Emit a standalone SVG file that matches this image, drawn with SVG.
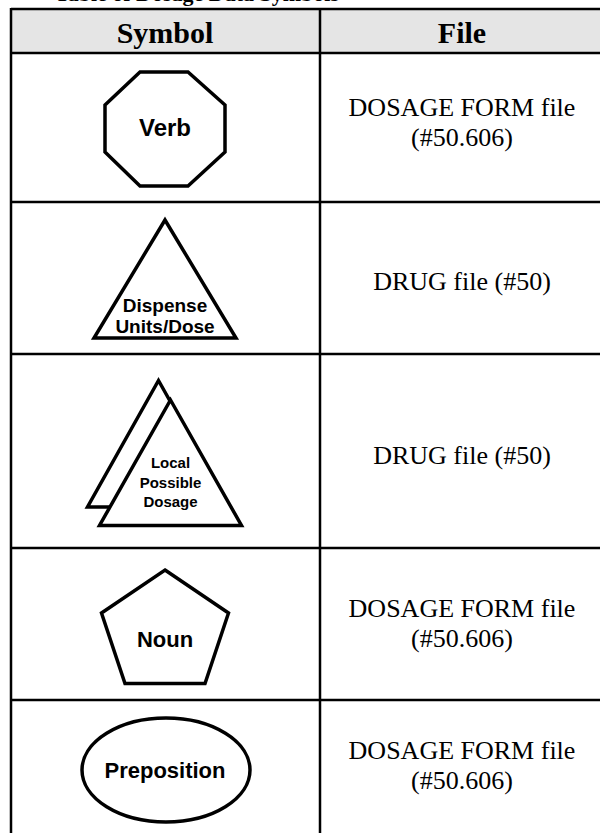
<svg xmlns="http://www.w3.org/2000/svg" width="600" height="833" viewBox="0 0 600 833">
<style>
.grid{stroke:#000;stroke-width:2.5;fill:none}
.shape{stroke:#000;stroke-width:3.5;fill:#fff;stroke-linejoin:miter}
.hdr{font-family:"Liberation Serif","Times New Roman",serif;font-weight:bold;font-size:30px;text-anchor:middle;fill:#000}
.title{font-family:"Liberation Serif","Times New Roman",serif;font-weight:bold;font-size:22px;fill:#000}
.cell{font-family:"Liberation Serif","Times New Roman",serif;font-size:26px;text-anchor:middle;fill:#000}
.lbl{font-family:"Liberation Sans",Arial,sans-serif;font-weight:bold;text-anchor:middle;fill:#000}
</style>
<rect x="0" y="0" width="600" height="833" fill="#fff"/>
<text class="title" x="55" y="1">Table of Dosage Data Symbols</text>
<g id="table">
<rect x="11" y="9" width="594" height="44" fill="#e5e5e5"/>
<line class="grid" x1="11" y1="9" x2="605" y2="9"/>
<line class="grid" x1="11" y1="53" x2="605" y2="53"/>
<line class="grid" x1="11" y1="202" x2="605" y2="202"/>
<line class="grid" x1="11" y1="354" x2="605" y2="354"/>
<line class="grid" x1="11" y1="548" x2="605" y2="548"/>
<line class="grid" x1="11" y1="700" x2="605" y2="700"/>
<line class="grid" x1="11" y1="8" x2="11" y2="840"/>
<line class="grid" x1="320" y1="8" x2="320" y2="840"/>
<text class="hdr" x="165" y="43">Symbol</text>
<text class="hdr" x="462" y="43">File</text>
</g>
<g id="verb">
<polygon class="shape" points="140,72 188,72 225,105 225,152 188,186 140,186 105,152 105,105"/>
<text class="lbl" x="165" y="136" font-size="24">Verb</text>
</g>
<g id="verb-file"><text class="cell" x="462" y="116">DOSAGE FORM file</text><text class="cell" x="462" y="146">(#50.606)</text></g>
<g id="dispense">
<polygon class="shape" points="165,220 236,338 94,338"/>
<text class="lbl" x="165" y="312" font-size="19">Dispense</text>
<text class="lbl" x="165" y="333" font-size="19">Units/Dose</text>
</g>
<g id="dispense-file"><text class="cell" x="462" y="290">DRUG file (#50)</text></g>
<g id="local">
<polygon class="shape" points="158.5,380.5 229.5,507 87.5,507"/>
<polygon class="shape" points="170.5,400 241.5,525.5 99.5,525.5"/>
<text class="lbl" x="170.5" y="468" font-size="15">Local</text>
<text class="lbl" x="170.5" y="488" font-size="15">Possible</text>
<text class="lbl" x="170.5" y="507" font-size="15">Dosage</text>
</g>
<g id="local-file"><text class="cell" x="462" y="464">DRUG file (#50)</text></g>
<g id="noun">
<polygon class="shape" points="165,570 228.5,613 205,683.5 125,683.5 101.5,613"/>
<text class="lbl" x="165" y="647" font-size="22">Noun</text>
</g>
<g id="noun-file"><text class="cell" x="462" y="617">DOSAGE FORM file</text><text class="cell" x="462" y="647">(#50.606)</text></g>
<g id="preposition">
<ellipse class="shape" cx="166" cy="770" rx="84" ry="52"/>
<text class="lbl" x="165" y="778" font-size="22">Preposition</text>
</g>
<g id="preposition-file"><text class="cell" x="462" y="759">DOSAGE FORM file</text><text class="cell" x="462" y="789">(#50.606)</text></g>
<g id="connectors"></g>
</svg>
